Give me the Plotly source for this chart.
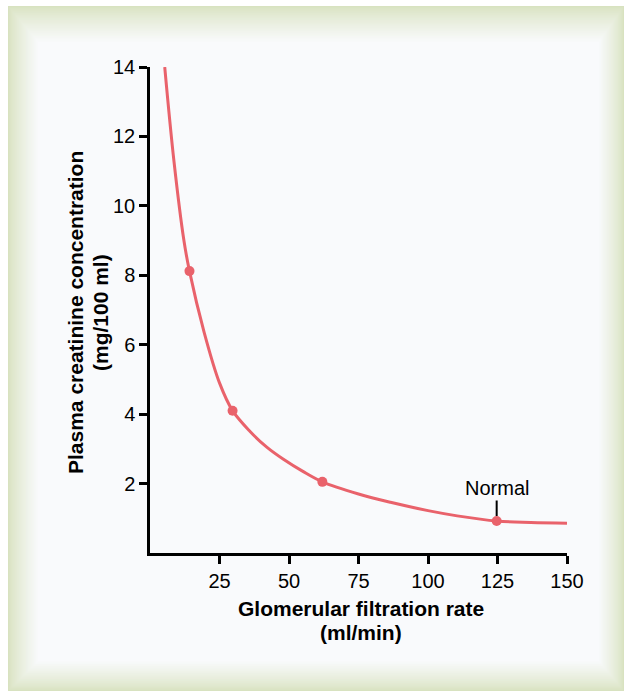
import plotly.graph_objects as go

# ---- data ----
gfr_curve = [5.3, 8.6, 12.2, 14.2, 19.5, 25.0, 29.7, 36.0, 42.0, 48.0, 55.0, 62.0,
             75.0, 86.5, 100.0, 110.5, 124.7, 137.0, 150.0]
creat_curve = [14.0, 11.3, 9.0, 8.12, 6.35, 4.90, 4.10, 3.50, 3.05, 2.70, 2.35, 2.05,
               1.70, 1.46, 1.22, 1.07, 0.92, 0.88, 0.86]
gfr_points = [14.2, 29.7, 62.0, 124.7]
creat_points = [8.12, 4.10, 2.05, 0.92]
x_ticks = [25, 50, 75, 100, 125, 150]
y_ticks = [2, 4, 6, 8, 10, 12, 14]
normal_label = "Normal"
x_title = ["Glomerular filtration rate", "(ml/min)"]
y_title = ["Plasma creatinine concentration", "(mg/100 ml)"]

W, H = 628, 694
ML, MR, MT, MB = 150, 61, 67, 141
PW, PH = W - ML - MR, H - MT - MB

def px(xp):
    return (xp - ML) / PW

def py(yp):
    return (H - MB - yp) / PH

RED = "#e9626b"
FONT = "Liberation Sans, Arial, sans-serif"

fig = go.Figure()
fig.add_trace(go.Scatter(x=gfr_curve, y=creat_curve, mode="lines",
                         line=dict(color=RED, width=3, shape="spline", smoothing=1.0),
                         cliponaxis=False, hoverinfo="skip", showlegend=False))
fig.add_trace(go.Scatter(x=gfr_points, y=creat_points, mode="markers",
                         marker=dict(color=RED, size=10),
                         cliponaxis=False, showlegend=False))

# ---- beveled frame (nested rectangles simulating gradient) ----
outer = (216, 226, 192)
inner = (249, 250, 252)
x0o, x1o, y0o, y1o = 8, 624, 6, 691
wl, wr, wt, wb = 30, 25, 36, 30
N = 28
shapes = []
for k in range(N + 1):
    t = (k / N) ** 0.8
    c = tuple(round(outer[i] + (inner[i] - outer[i]) * t) for i in range(3))
    f = k / N
    shapes.append(dict(type="rect", xref="paper", yref="paper", layer="below",
                       x0=px(x0o + wl * f), x1=px(x1o - wr * f),
                       y0=py(y1o - wb * f), y1=py(y0o + wt * f),
                       line=dict(width=0), fillcolor="rgb(%d,%d,%d)" % c))

TF = dict(family=FONT, size=21, color="black")
annotations = [
    dict(x=gfr_points[-1], y=creat_points[-1], xref="x", yref="y", text=normal_label,
         showarrow=True, arrowhead=0, arrowwidth=2, arrowcolor="black",
         ax=0, ay=-33, standoff=5, font=dict(family=FONT, size=20, color="black")),
    dict(x=px(361), y=py(608), xref="paper", yref="paper", text="<b>%s</b>" % x_title[0],
         showarrow=False, xanchor="center", yanchor="middle", font=TF),
    dict(x=px(361), y=py(632), xref="paper", yref="paper", text="<b>%s</b>" % x_title[1],
         showarrow=False, xanchor="center", yanchor="middle", font=TF),
    dict(x=px(75), y=py(313), xref="paper", yref="paper", text="<b>%s</b>" % y_title[0],
         showarrow=False, xanchor="center", yanchor="middle", textangle=-90, font=TF),
    dict(x=px(100), y=py(313), xref="paper", yref="paper", text="<b>%s</b>" % y_title[1],
         showarrow=False, xanchor="center", yanchor="middle", textangle=-90, font=TF),
]

axis_common = dict(showline=True, linecolor="black", linewidth=2.5, ticks="outside",
                   ticklen=8, tickwidth=2.5, tickcolor="black", showgrid=False,
                   zeroline=False, tickfont=dict(family=FONT, size=20, color="black"),
                   fixedrange=True)

fig.update_layout(
    width=W, height=H,
    margin=dict(l=ML, r=MR, t=MT, b=MB, pad=0),
    paper_bgcolor="white", plot_bgcolor="rgba(0,0,0,0)",
    xaxis=dict(range=[0, 150], tickvals=x_ticks, **axis_common),
    yaxis=dict(range=[0, 14], tickvals=y_ticks, **axis_common),
    shapes=shapes, annotations=annotations, showlegend=False,
)

fig.write_html("out.html", post_script="document.body.style.margin='0';",
               config={"displayModeBar": False})
